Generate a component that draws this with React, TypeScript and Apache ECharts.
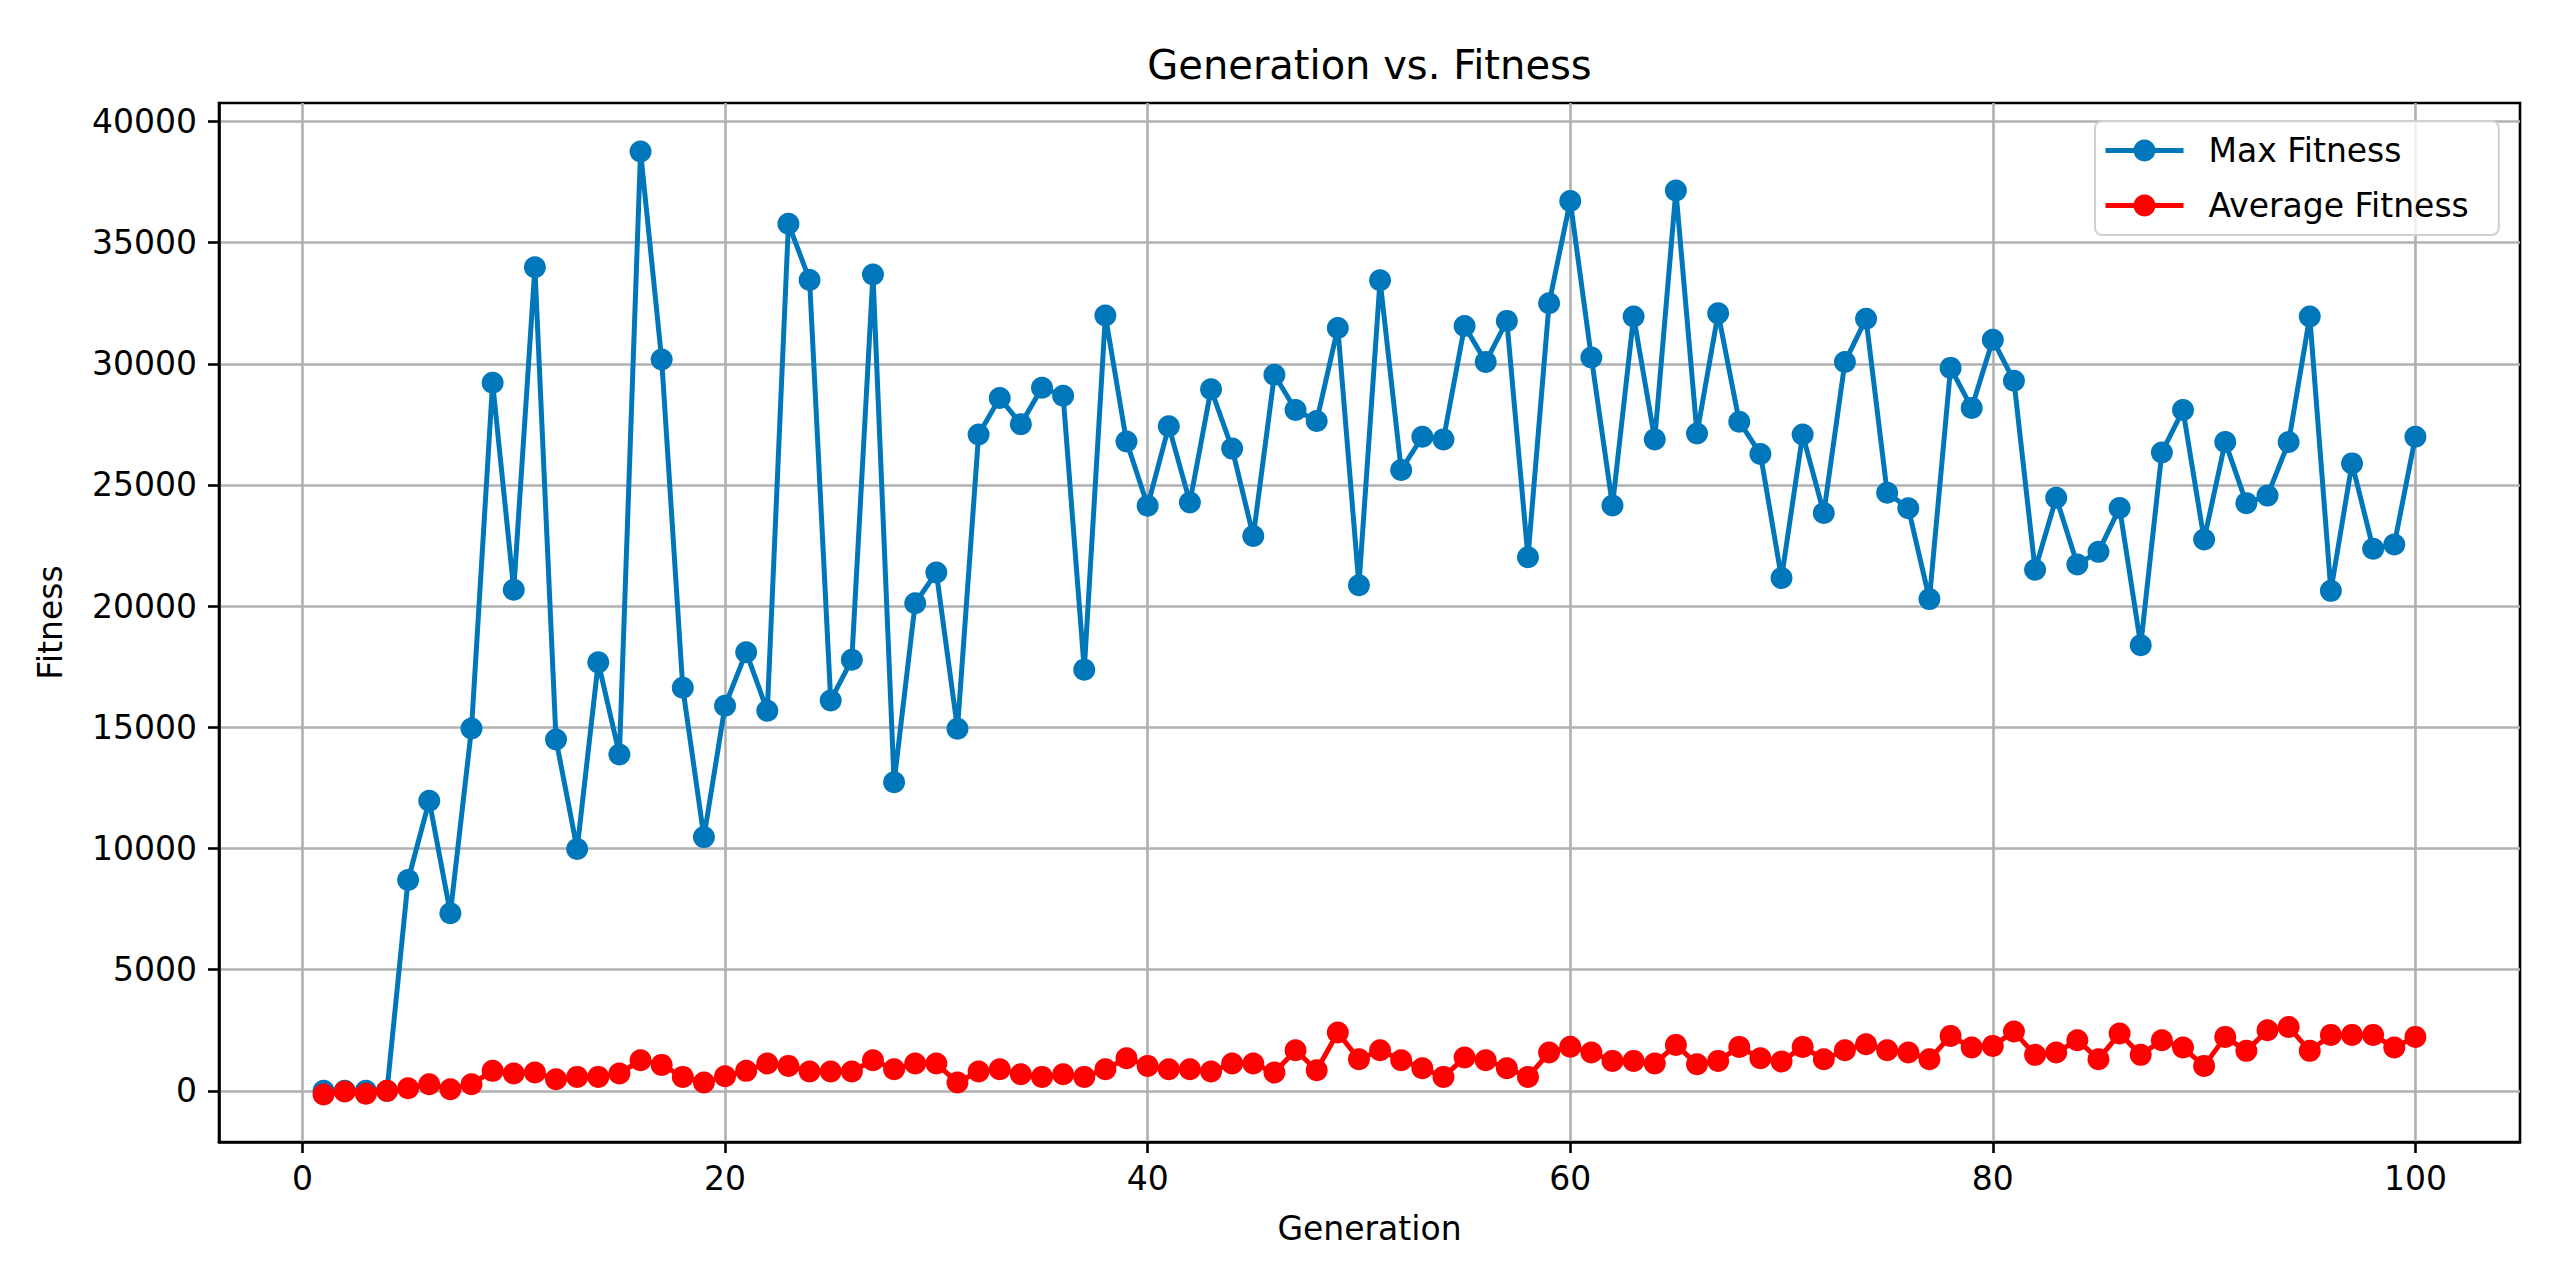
import React, { useEffect, useRef } from "react";
import * as echarts from "echarts";

const generations = [
  1, 2, 3, 4, 5, 6, 7, 8, 9, 10, 11, 12, 13, 14, 15, 16, 17, 18, 19, 20,
  21, 22, 23, 24, 25, 26, 27, 28, 29, 30, 31, 32, 33, 34, 35, 36, 37, 38, 39, 40,
  41, 42, 43, 44, 45, 46, 47, 48, 49, 50, 51, 52, 53, 54, 55, 56, 57, 58, 59, 60,
  61, 62, 63, 64, 65, 66, 67, 68, 69, 70, 71, 72, 73, 74, 75, 76, 77, 78, 79, 80,
  81, 82, 83, 84, 85, 86, 87, 88, 89, 90, 91, 92, 93, 94, 95, 96, 97, 98, 99, 100,
];

const maxFitness = [
  0, 0, 0, 0, 8700, 11970, 7330, 14950, 29220, 20680,
  33980, 14500, 9980, 17680, 13880, 38760, 30180, 16630, 10470, 15890,
  18100, 15680, 35780, 33460, 16110, 17790, 33680, 12730, 20120, 21390,
  14940, 27080, 28590, 27510, 29010, 28680, 17380, 31990, 26790, 24140,
  27420, 24280, 28950, 26500, 22890, 29550, 28090, 27640, 31480, 20860,
  33450, 25620, 26990, 26880, 31560, 30070, 31770, 22020, 32500, 36720,
  30260, 24150, 31950, 26880, 37150, 27120, 32080, 27610, 26280, 21160,
  27080, 23840, 30070, 31860, 24680, 24040, 20290, 29830, 28180, 30990,
  29300, 21500, 24470, 21720, 22240, 24050, 18390, 26340, 28090, 22750,
  26770, 24250, 24560, 26770, 31950, 20630, 25890, 22370, 22540, 26990,
];

const avgFitness = [
  -150, -30, -120, 0, 110, 275, 70, 275, 825, 715,
  755, 480, 577, 577, 715, 1265, 1072, 577, 344, 600,
  825, 1127, 1030, 797, 797, 797, 1265, 893, 1127, 1127,
  344, 797, 893, 687, 577, 687, 577, 893, 1347, 1030,
  893, 893, 797, 1127, 1127, 755, 1678, 852, 2405, 1306,
  1678, 1265, 935, 577, 1375, 1265, 935, 577, 1581, 1820,
  1581, 1237, 1237, 1127, 1897, 1100, 1237, 1814, 1347, 1210,
  1814, 1306, 1678, 1924, 1678, 1581, 1306, 2268, 1787, 1856,
  2446, 1485, 1581, 2090, 1306, 2364, 1485, 2090, 1787, 1030,
  2227, 1650, 2502, 2639, 1650, 2309, 2309, 2309, 1787, 2227,
];

const xTicks = [0, 20, 40, 60, 80, 100];
const yTicks = [0, 5000, 10000, 15000, 20000, 25000, 30000, 35000, 40000];

const seriesNames = ["Max Fitness", "Average Fitness"];
const titleText = "Generation vs. Fitness";
const xName = "Generation";
const yName = "Fitness";

export default function App() {
  const ref = useRef<HTMLDivElement>(null);

  useEffect(() => {
    if (!ref.current) return;
    const chart = echarts.init(ref.current, null, { renderer: "svg" });
    const font = "DejaVu Sans";
    const blue = "#0077bb";
    const red = "#ff0000";
    const gridColor = "#b0b0b0";

    chart.setOption({
      animation: false,
      backgroundColor: "#ffffff",
      textStyle: { fontFamily: font },
      grid: {
        left: 219,
        right: 51,
        top: 103,
        bottom: 142,
        show: true,
        borderColor: "#000000",
        borderWidth: 2.6,
        backgroundColor: "transparent",
        containLabel: false,
      },
      graphic: [
        {
          type: "text",
          x: 1369.5,
          y: 65,
          style: {
            text: titleText,
            fontSize: 40,
            fontFamily: font,
            fill: "#000000",
            align: "center",
            verticalAlign: "middle",
          },
        },
      ],
      legend: {
        orient: "vertical",
        left: 2095,
        top: 121,
        padding: [13, 30, 13, 8],
        itemGap: 22,
        itemWidth: 78,
        itemHeight: 27.5,
        backgroundColor: "rgba(255,255,255,0.8)",
        borderColor: "#d0d0d0",
        borderWidth: 2,
        borderRadius: 7,
        lineStyle: { width: 5 },
        textStyle: {
          fontSize: 33,
          color: "#000000",
          fontFamily: font,
          padding: [0, 0, 0, 20],
        },
        data: seriesNames,
      },
      xAxis: {
        type: "value",
        min: -3.95,
        max: 104.95,
        name: xName,
        nameLocation: "middle",
        nameGap: 70,
        nameTextStyle: { fontSize: 33, color: "#000000", fontFamily: font },
        axisLine: { show: true, onZero: false, lineStyle: { color: "#000000", width: 2.6 } },
        axisTick: {
          show: true,
          customValues: xTicks,
          length: 11,
          lineStyle: { color: "#000000", width: 2.6 },
        },
        axisLabel: {
          customValues: xTicks,
          fontSize: 33,
          color: "#000000",
          margin: 20,
          fontFamily: font,
          formatter: (v: number) => String(v),
        },
        splitLine: { show: true, lineStyle: { color: gridColor, width: 2.6 } },
      },
      yAxis: {
        type: "value",
        min: -2110,
        max: 40760,
        name: yName,
        nameLocation: "middle",
        nameGap: 152,
        nameRotate: 90,
        nameTextStyle: { fontSize: 33, color: "#000000", fontFamily: font },
        axisLine: { show: true, onZero: false, lineStyle: { color: "#000000", width: 2.6 } },
        axisTick: {
          show: true,
          customValues: yTicks,
          length: 11,
          lineStyle: { color: "#000000", width: 2.6 },
        },
        axisLabel: {
          customValues: yTicks,
          fontSize: 33,
          color: "#000000",
          margin: 22,
          fontFamily: font,
          formatter: (v: number) => String(v),
        },
        splitLine: { show: true, lineStyle: { color: gridColor, width: 2.6 } },
      },
      series: [
        {
          type: "line",
          name: seriesNames[0],
          data: generations.map((g, i) => [g, maxFitness[i]]),
          symbol: "circle",
          symbolSize: 22,
          showAllSymbol: true,
          lineStyle: { color: blue, width: 5 },
          itemStyle: { color: blue },
          z: 2,
        },
        {
          type: "line",
          name: seriesNames[1],
          data: generations.map((g, i) => [g, avgFitness[i]]),
          symbol: "circle",
          symbolSize: 22,
          showAllSymbol: true,
          lineStyle: { color: red, width: 5 },
          itemStyle: { color: red },
          z: 3,
        },
      ],
    });

    return () => chart.dispose();
  }, []);

  return (
    <div
      ref={ref}
      style={{
        position: "absolute",
        left: 0,
        top: 0,
        width: 2571,
        height: 1284,
        background: "#ffffff",
      }}
    />
  );
}
